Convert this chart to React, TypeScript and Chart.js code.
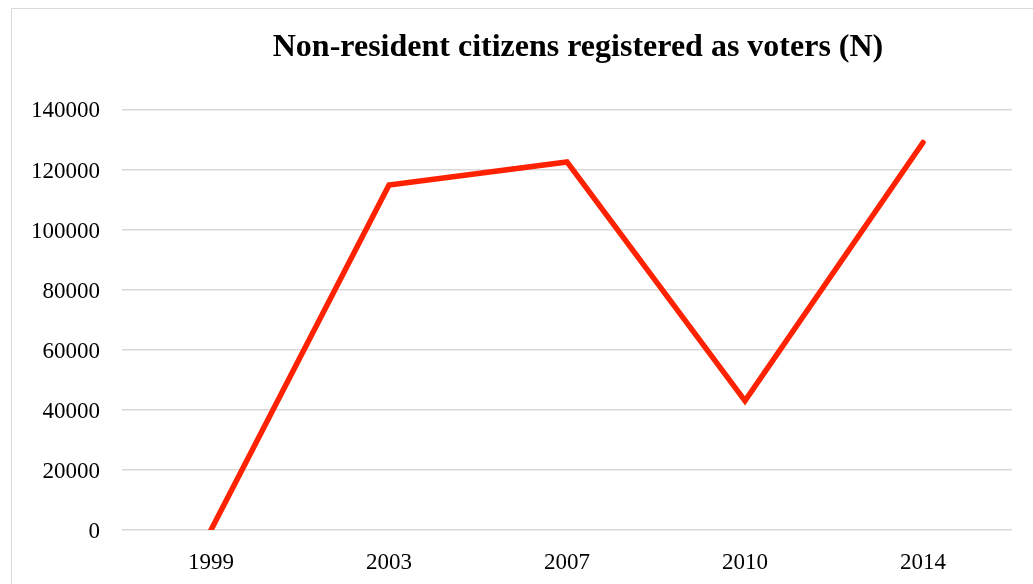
import React, { useEffect, useRef } from "react";
import { Chart, registerables } from "chart.js";

Chart.register(...registerables);

const categories = ["1999", "2003", "2007", "2010", "2014"];
const registeredVoters = [0, 114800, 122500, 43000, 129000];
const titleText = "Non-resident citizens registered as voters (N)";

export default function App() {
  const ref = useRef<HTMLCanvasElement | null>(null);

  useEffect(() => {
    if (!ref.current) return;
    const chart = new Chart(ref.current, {
      type: "line",
      data: {
        labels: categories,
        datasets: [
          {
            data: registeredVoters,
            borderColor: "#ff2200",
            backgroundColor: "#ff2200",
            borderWidth: 5.5,
            borderCapStyle: "round",
            pointRadius: 0,
            pointHoverRadius: 0,
            tension: 0,
            fill: false,
          },
        ],
      },
      options: {
        responsive: false,
        animation: false,
        layout: { padding: 0 },
        plugins: {
          legend: { display: false },
          tooltip: { enabled: false },
          title: {
            display: true,
            text: titleText,
            color: "#000000",
            font: { family: "'Liberation Serif', 'Times New Roman', serif", size: 32, weight: "bold", lineHeight: 1.2 },
            padding: { top: 20, bottom: 42 },
          },
        },
        scales: {
          x: {
            type: "category",
            offset: true,
            grid: { display: false },
            border: { display: false },
            ticks: {
              color: "#000000",
              font: { family: "'Liberation Serif', 'Times New Roman', serif", size: 23 },
              padding: 11,
              maxRotation: 0,
            },
            afterFit: (s: any) => {
              s.height = 60;
            },
          },
          y: {
            type: "linear",
            position: "left",
            min: 0,
            max: 140000,
            grid: { color: "#d9d9d9", lineWidth: 1.5, drawTicks: false },
            border: { display: false },
            ticks: {
              stepSize: 20000,
              color: "#000000",
              font: { family: "'Liberation Serif', 'Times New Roman', serif", size: 23 },
              padding: 22,
              labelOffset: 2,
              callback: (v: any) => String(v),
            },
            afterFit: (s: any) => {
              s.width = 110;
            },
          },
          yRight: {
            type: "linear",
            position: "right",
            grid: { display: false, drawTicks: false },
            border: { display: false },
            ticks: { display: false },
            afterFit: (s: any) => {
              s.width = 132;
            },
          },
        },
      },
    });
    return () => chart.destroy();
  }, []);

  return (
    <div style={{ position: "fixed", left: 0, top: 0, width: 1033, height: 584, overflow: "hidden", background: "#ffffff" }}>
      <div
        style={{
          position: "absolute",
          left: 11,
          top: 8,
          width: 1132,
          height: 581,
          border: "1px solid #d9d9d9",
          boxSizing: "content-box",
        }}
      >
        <canvas ref={ref} width={1132} height={581} style={{ display: "block", width: 1132, height: 581 }} />
      </div>
    </div>
  );
}
